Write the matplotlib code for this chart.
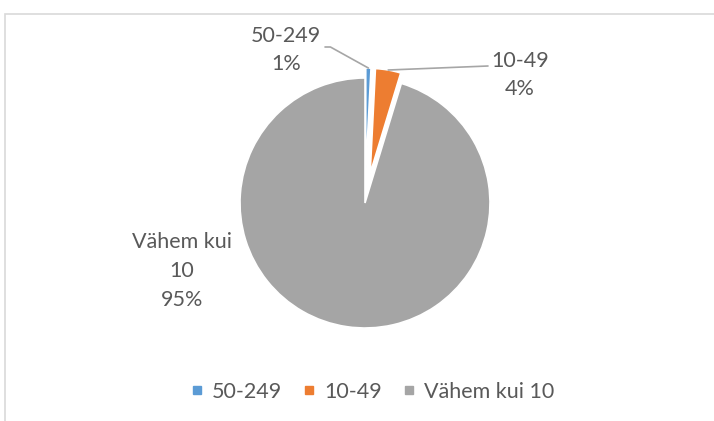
import matplotlib.pyplot as plt
import numpy as np

# data
labels = ['50-249', '10-49', 'Vähem kui 10']
values = [0.8, 3.9, 95.3]
colors = ['#5B9BD5', '#ED7D31', '#A5A5A5']

plt.rcParams['font.family'] = ['Lato', 'DejaVu Sans']
txt_color = '#595959'

fig = plt.figure(figsize=(7.14, 4.21), dpi=100)

# pie axes: centre at (365, 203) px from top, radius 125 px
cx, cy, r_px, half = 365, 421 - 203, 125, 1.3
ax = fig.add_axes([(cx - half * r_px) / 714, (cy - half * r_px) / 421,
                   2 * half * r_px / 714, 2 * half * r_px / 421])

explode = [0.24, 0.24, 0.0]
wedges, _ = ax.pie(values, colors=colors, startangle=90, counterclock=False,
                   explode=explode, wedgeprops=dict(edgecolor='white', linewidth=1.2))
# exploded slices look a bit smaller in the original
for w, e in zip(wedges, explode):
    if e > 0:
        w.set_radius(0.84)
ax.set_xlim(-half, half)
ax.set_ylim(-half, half)
ax.axis('off')

pct = [round(v / sum(values) * 100) for v in values]


def outer_mid(w):
    a = np.deg2rad((w.theta1 + w.theta2) / 2)
    return w.center[0] + w.r * np.cos(a), w.center[1] + w.r * np.sin(a)


fs = 15.5
ls = 1.55
ax.text(-0.632, 1.224, f'{labels[0]}\n{pct[0]}%', ha='center', va='center',
        fontsize=fs, color=txt_color, linespacing=ls)
ax.text(1.24, 1.024, f'{labels[1]}\n{pct[1]}%', ha='center', va='center',
        fontsize=fs, color=txt_color, linespacing=ls)
ax.text(-1.464, -0.544, 'Vähem kui\n10\n' + f'{pct[2]}%', ha='center', va='center',
        fontsize=fs, color=txt_color, linespacing=ls)

line_kw = dict(arrowstyle='-', color='#A6A6A6', lw=1.2, shrinkA=0, shrinkB=0)
ax.annotate('', xy=outer_mid(wedges[0]), xytext=(-0.32, 1.248),
            arrowprops=dict(connectionstyle='angle,angleA=0,angleB=-29,rad=0', **line_kw))
ax.annotate('', xy=outer_mid(wedges[1]), xytext=(0.984, 1.096),
            arrowprops=dict(connectionstyle='arc3', **line_kw))

handles = [plt.Line2D([], [], marker='s', ls='', markersize=6, color=c) for c in colors]
fig.legend(handles, labels, loc='center', bbox_to_anchor=(372 / 714, 1 - 392 / 421),
           ncol=3, frameon=False, fontsize=fs, labelcolor=txt_color,
           handlelength=0.6, handletextpad=0.4, columnspacing=0.95)

# chart area border (only top and left edge visible in the crop)
fig.add_artist(plt.Rectangle((5 / 714, -0.1), 2, 1 - 14 / 421 + 0.1,
                             transform=fig.transFigure, fill=False,
                             edgecolor='#D9D9D9', lw=1.2))

fig.savefig('out.png', dpi=100)
